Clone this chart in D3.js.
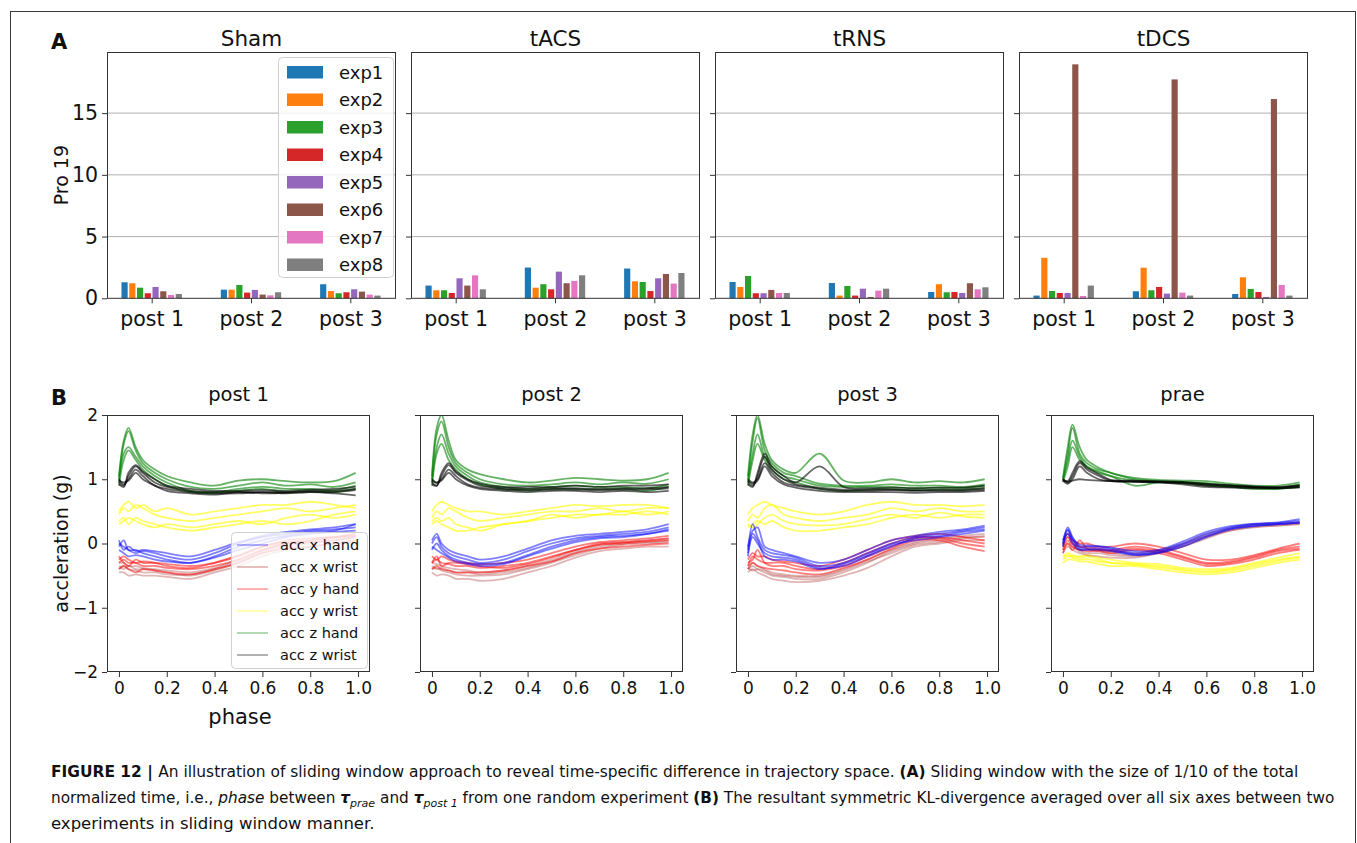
<!DOCTYPE html>
<html><head><meta charset="utf-8">
<script src="https://cdn.jsdelivr.net/npm/d3@7"></script>
<style>
html,body{margin:0;padding:0;background:#fff;}
svg text{font-family:"DejaVu Sans",sans-serif;fill:#111;}
</style></head>
<body>
<svg id="fig" width="1357" height="843"></svg>
<script>
// ---------------- DATA: panel A ----------------
const STIMS = ["Sham", "tACS", "tRNS", "tDCS"];
const CATS = ["post 1", "post 2", "post 3"];
const EXPS = ["exp1", "exp2", "exp3", "exp4", "exp5", "exp6", "exp7", "exp8"];
const EXP_COLORS = ["#1f77b4", "#ff7f0e", "#2ca02c", "#d62728", "#9467bd", "#8c564b", "#e377c2", "#7f7f7f"];
const A_YTICKS = [0, 5, 10, 15];
// values per category (post1, post2, post3), 8 experiments each
const shamVals = [[1.30, 1.22, 0.86, 0.41, 0.92, 0.57, 0.27, 0.35],
                  [0.70, 0.70, 1.08, 0.46, 0.68, 0.30, 0.24, 0.49],
                  [1.14, 0.59, 0.41, 0.49, 0.73, 0.54, 0.30, 0.22]];
const tacsVals = [[1.03, 0.65, 0.65, 0.43, 1.62, 1.03, 1.86, 0.73],
                  [2.49, 0.86, 1.14, 0.73, 2.16, 1.22, 1.41, 1.86],
                  [2.41, 1.38, 1.32, 0.59, 1.62, 1.97, 1.19, 2.05]];
const trnsVals = [[1.32, 0.92, 1.81, 0.41, 0.41, 0.68, 0.43, 0.43],
                  [1.24, 0.22, 1.00, 0.22, 0.78, 0.11, 0.62, 0.78],
                  [0.51, 1.14, 0.49, 0.51, 0.43, 1.22, 0.73, 0.89]];
const tdcsVals = [[0.22, 3.28, 0.59, 0.43, 0.43, 18.95, 0.19, 1.03],
                  [0.57, 2.48, 0.65, 0.92, 0.38, 17.73, 0.46, 0.22],
                  [0.35, 1.70, 0.76, 0.51, 0.11, 16.14, 1.08, 0.22]];

// ---------------- DATA: panel B ----------------
const B_TITLES = ["post 1", "post 2", "post 3", "prae"];
const B_YTICKS = [2, 1, 0, -1, -2];
const B_XTICKS = [0, 0.2, 0.4, 0.6, 0.8, 1.0];
const B_XTICK_LABELS = ["0", "0.2", "0.4", "0.6", "0.8", "1.0"];
const AXES_NAMES = ["acc x hand", "acc x wrist", "acc y hand", "acc y wrist", "acc z hand", "acc z wrist"];
const AXES_COLORS = ["#0000ff", "#a52a2a", "#ff0000", "#ffff00", "#008000", "#000000"];
const PHASE = [0, 0.02, 0.04, 0.07, 0.1, 0.15, 0.2, 0.3, 0.4, 0.5, 0.6, 0.7, 0.8, 0.9, 0.99];

// post 1
const p1_xHand = [[0.0,-0.05,-0.1,-0.15,-0.12,-0.15,-0.2,-0.25,-0.15,0.0,0.1,0.15,0.2,0.22,0.25],
  [-0.05,0.05,-0.1,-0.1,-0.15,-0.2,-0.25,-0.3,-0.2,-0.05,0.05,0.12,0.18,0.2,0.3],
  [0.05,-0.1,-0.05,-0.12,-0.1,-0.12,-0.15,-0.2,-0.1,0.02,0.12,0.18,0.22,0.25,0.3],
  [-0.1,-0.15,-0.2,-0.18,-0.2,-0.25,-0.28,-0.3,-0.22,-0.1,0.0,0.1,0.15,0.18,0.2]];
const p1_xWrist = [[-0.35,-0.4,-0.35,-0.4,-0.4,-0.42,-0.45,-0.5,-0.42,-0.3,-0.15,-0.05,0.0,0.05,0.1],
  [-0.3,-0.3,-0.35,-0.35,-0.38,-0.4,-0.42,-0.45,-0.38,-0.25,-0.1,0.0,0.05,0.1,0.15],
  [-0.45,-0.45,-0.5,-0.48,-0.5,-0.5,-0.52,-0.55,-0.45,-0.35,-0.2,-0.1,-0.05,0.0,0.02],
  [-0.4,-0.35,-0.4,-0.42,-0.45,-0.45,-0.48,-0.48,-0.4,-0.28,-0.12,-0.02,0.02,0.08,0.12]];
const p1_yHand = [[-0.3,-0.25,-0.3,-0.3,-0.35,-0.35,-0.38,-0.4,-0.35,-0.25,-0.1,0.0,0.02,0.05,0.1],
  [-0.2,-0.3,-0.35,-0.25,-0.3,-0.3,-0.32,-0.35,-0.3,-0.2,-0.05,0.02,0.05,0.1,0.15],
  [-0.4,-0.35,-0.4,-0.45,-0.4,-0.42,-0.45,-0.48,-0.4,-0.3,-0.15,-0.08,-0.05,0.0,0.05],
  [-0.25,-0.2,-0.25,-0.3,-0.28,-0.3,-0.35,-0.38,-0.3,-0.18,-0.05,0.05,0.08,0.1,0.12]];
const p1_yWrist = [[0.45,0.55,0.5,0.6,0.55,0.45,0.4,0.35,0.4,0.45,0.5,0.55,0.5,0.55,0.6],
  [0.3,0.35,0.4,0.35,0.3,0.25,0.3,0.25,0.3,0.35,0.3,0.4,0.45,0.4,0.45],
  [0.5,0.6,0.65,0.55,0.6,0.5,0.55,0.45,0.5,0.55,0.6,0.6,0.65,0.6,0.55],
  [0.35,0.4,0.3,0.4,0.35,0.3,0.25,0.2,0.25,0.3,0.35,0.3,0.35,0.45,0.5]];
const p1_zHand = [[1.0,1.55,1.75,1.45,1.25,1.1,1.0,0.88,0.85,0.9,0.95,0.9,0.92,0.88,0.95],
  [0.95,1.4,1.5,1.35,1.2,1.05,0.95,0.82,0.8,0.85,0.88,0.85,0.85,0.83,0.9],
  [1.05,1.6,1.8,1.5,1.3,1.15,1.05,0.95,0.9,0.98,1.0,0.97,0.95,0.97,1.1],
  [0.9,1.3,1.45,1.3,1.15,1.0,0.9,0.8,0.78,0.82,0.85,0.8,0.82,0.8,0.85]];
const p1_zWrist = [[0.95,0.9,1.05,1.2,1.1,0.95,0.88,0.82,0.8,0.8,0.8,0.8,0.82,0.82,0.85],
  [1.0,0.92,1.0,1.15,1.05,0.9,0.85,0.8,0.78,0.78,0.8,0.78,0.8,0.8,0.83],
  [0.92,0.88,1.1,1.22,1.12,1.0,0.9,0.85,0.82,0.82,0.83,0.82,0.84,0.85,0.88],
  [0.98,0.95,0.98,1.1,1.0,0.9,0.82,0.78,0.76,0.8,0.78,0.79,0.8,0.78,0.75]];

// post 2
const p2_xHand = [[0.0,0.1,-0.05,-0.15,-0.2,-0.25,-0.3,-0.25,-0.12,0.0,0.08,0.12,0.15,0.18,0.25],
  [-0.1,0.0,-0.1,-0.2,-0.25,-0.3,-0.32,-0.3,-0.18,-0.05,0.05,0.1,0.12,0.15,0.2],
  [0.05,0.15,0.0,-0.1,-0.15,-0.2,-0.25,-0.2,-0.08,0.05,0.12,0.15,0.18,0.22,0.3],
  [-0.05,-0.1,-0.15,-0.22,-0.28,-0.32,-0.35,-0.32,-0.2,-0.08,0.02,0.08,0.1,0.15,0.22]];
const p2_xWrist = [[-0.35,-0.4,-0.38,-0.42,-0.45,-0.45,-0.48,-0.45,-0.38,-0.28,-0.15,-0.05,0.0,0.02,0.05],
  [-0.3,-0.32,-0.35,-0.38,-0.4,-0.42,-0.45,-0.42,-0.35,-0.25,-0.12,-0.02,0.02,0.05,0.08],
  [-0.45,-0.5,-0.48,-0.5,-0.55,-0.55,-0.58,-0.55,-0.45,-0.35,-0.22,-0.12,-0.08,-0.05,-0.05],
  [-0.4,-0.38,-0.42,-0.45,-0.48,-0.5,-0.5,-0.48,-0.4,-0.3,-0.18,-0.08,-0.02,0.0,0.02]];
const p2_yHand = [[-0.3,-0.25,-0.3,-0.32,-0.35,-0.35,-0.38,-0.35,-0.3,-0.2,-0.1,0.0,0.02,0.05,0.08],
  [-0.2,-0.25,-0.2,-0.25,-0.28,-0.3,-0.32,-0.3,-0.25,-0.15,-0.05,0.02,0.05,0.08,0.12],
  [-0.4,-0.35,-0.4,-0.42,-0.45,-0.45,-0.45,-0.42,-0.35,-0.28,-0.15,-0.08,-0.05,-0.02,0.0],
  [-0.3,-0.2,-0.35,-0.3,-0.3,-0.32,-0.35,-0.38,-0.32,-0.22,-0.1,-0.02,0.0,0.03,0.05]];
const p2_yWrist = [[0.4,0.5,0.45,0.55,0.5,0.4,0.35,0.4,0.45,0.5,0.5,0.55,0.5,0.55,0.55],
  [0.3,0.35,0.3,0.25,0.2,0.2,0.25,0.3,0.35,0.4,0.45,0.45,0.5,0.45,0.5],
  [0.5,0.6,0.65,0.6,0.55,0.5,0.5,0.45,0.5,0.55,0.6,0.58,0.6,0.6,0.55],
  [0.35,0.4,0.35,0.4,0.3,0.25,0.2,0.3,0.35,0.45,0.4,0.45,0.45,0.5,0.45]];
const p2_zHand = [[1.0,1.7,1.9,1.5,1.25,1.1,1.0,0.92,0.9,0.92,0.95,0.92,0.95,0.93,1.0],
  [0.95,1.5,1.7,1.4,1.2,1.05,0.95,0.88,0.85,0.88,0.9,0.88,0.88,0.86,0.92],
  [1.05,1.8,2.0,1.6,1.3,1.15,1.08,1.0,0.95,0.98,1.02,1.0,0.98,1.0,1.1],
  [0.9,1.4,1.55,1.3,1.15,1.0,0.92,0.85,0.82,0.85,0.85,0.84,0.85,0.82,0.88]];
const p2_zWrist = [[0.95,0.9,1.05,1.22,1.1,0.98,0.9,0.86,0.85,0.86,0.86,0.85,0.86,0.86,0.88],
  [1.0,0.95,1.0,1.15,1.05,0.92,0.87,0.84,0.83,0.84,0.84,0.83,0.84,0.84,0.86],
  [0.92,0.9,1.1,1.25,1.12,1.0,0.93,0.88,0.88,0.88,0.9,0.88,0.9,0.9,0.92],
  [0.98,0.94,0.98,1.1,1.0,0.9,0.85,0.82,0.8,0.82,0.82,0.8,0.82,0.8,0.82]];

// post 3
const p3_xHand = [[-0.1,0.3,0.1,-0.1,-0.15,-0.18,-0.22,-0.35,-0.3,-0.15,0.0,0.1,0.15,0.2,0.25],
  [-0.05,0.2,0.25,-0.05,-0.1,-0.15,-0.2,-0.3,-0.25,-0.1,0.05,0.12,0.18,0.22,0.28],
  [-0.15,0.1,0.0,-0.15,-0.2,-0.22,-0.25,-0.38,-0.35,-0.2,-0.05,0.08,0.12,0.18,0.22],
  [-0.2,0.15,0.05,-0.2,-0.25,-0.25,-0.28,-0.4,-0.32,-0.18,-0.02,0.05,0.1,0.15,0.2]];
const p3_xWrist = [[-0.4,-0.35,-0.4,-0.45,-0.5,-0.52,-0.55,-0.55,-0.45,-0.3,-0.12,0.0,0.05,0.1,0.1],
  [-0.35,-0.3,-0.35,-0.4,-0.45,-0.48,-0.5,-0.5,-0.4,-0.25,-0.1,0.02,0.08,0.12,0.15],
  [-0.45,-0.4,-0.45,-0.5,-0.55,-0.58,-0.6,-0.58,-0.5,-0.38,-0.2,-0.05,0.0,0.05,0.05],
  [-0.38,-0.42,-0.4,-0.42,-0.48,-0.5,-0.52,-0.52,-0.42,-0.28,-0.15,-0.02,0.02,0.08,0.12]];
const p3_yHand = [[-0.35,-0.2,-0.25,-0.3,-0.3,-0.3,-0.35,-0.4,-0.3,-0.15,0.0,0.1,0.1,0.05,0.0],
  [-0.25,-0.15,-0.2,-0.2,-0.25,-0.28,-0.3,-0.35,-0.25,-0.1,0.05,0.12,0.15,0.1,0.05],
  [-0.4,-0.3,-0.35,-0.38,-0.4,-0.42,-0.45,-0.48,-0.38,-0.25,-0.08,0.05,0.05,-0.05,-0.12],
  [-0.3,-0.25,-0.1,-0.3,-0.35,-0.35,-0.4,-0.42,-0.35,-0.2,-0.05,0.08,0.08,0.0,-0.05]];
const p3_yWrist = [[0.35,0.45,0.4,0.55,0.6,0.45,0.4,0.35,0.4,0.45,0.55,0.5,0.55,0.5,0.5],
  [0.25,0.3,0.35,0.3,0.35,0.25,0.2,0.2,0.25,0.3,0.4,0.45,0.4,0.45,0.45],
  [0.45,0.55,0.6,0.65,0.6,0.55,0.5,0.45,0.5,0.6,0.65,0.6,0.6,0.58,0.6],
  [0.3,0.25,0.3,0.4,0.45,0.35,0.3,0.28,0.3,0.38,0.45,0.4,0.48,0.42,0.4]];
const p3_zHand = [[1.0,1.6,1.95,1.45,1.25,1.1,1.05,0.93,0.9,0.9,0.92,0.9,0.9,0.88,0.92],
  [0.95,1.4,1.7,1.35,1.2,1.05,1.0,0.9,0.88,0.88,0.88,0.86,0.87,0.86,0.9],
  [1.05,1.7,2.0,1.55,1.3,1.15,1.1,1.4,0.98,0.95,1.0,0.95,0.97,0.95,1.0],
  [0.9,1.3,1.55,1.3,1.15,1.0,0.95,0.85,0.82,0.84,0.85,0.83,0.84,0.83,0.87]];
const p3_zWrist = [[0.95,0.9,1.05,1.35,1.15,1.0,0.92,0.87,0.84,0.84,0.84,0.83,0.84,0.84,0.86],
  [1.0,0.95,1.0,1.25,1.1,0.95,0.9,0.85,0.82,0.82,0.83,0.82,0.82,0.82,0.84],
  [0.92,0.88,1.1,1.4,1.2,1.05,0.95,1.2,0.88,0.86,0.87,0.86,0.87,0.87,0.9],
  [0.98,0.93,0.98,1.2,1.05,0.92,0.87,0.82,0.8,0.8,0.8,0.79,0.8,0.8,0.82]];

// prae
const pr_xHand = [[0.0,0.25,0.1,-0.05,-0.05,-0.05,-0.08,-0.15,-0.12,0.0,0.15,0.25,0.3,0.32,0.35],
  [-0.05,0.2,0.05,-0.08,-0.08,-0.08,-0.1,-0.17,-0.14,-0.02,0.12,0.23,0.28,0.3,0.33],
  [0.05,0.22,0.08,-0.02,-0.03,-0.04,-0.06,-0.12,-0.1,0.03,0.18,0.27,0.31,0.33,0.38],
  [-0.02,0.15,0.0,-0.1,-0.1,-0.1,-0.12,-0.18,-0.15,-0.05,0.1,0.22,0.27,0.3,0.32]];
const pr_xWrist = [[-0.05,0.1,0.0,-0.1,-0.1,-0.12,-0.15,-0.18,-0.12,-0.02,0.12,0.22,0.28,0.3,0.32],
  [-0.15,-0.05,-0.1,-0.15,-0.18,-0.2,-0.22,-0.22,-0.15,-0.05,0.08,0.2,0.26,0.28,0.3],
  [0.0,0.15,0.05,-0.05,-0.08,-0.1,-0.12,-0.15,-0.1,0.0,0.15,0.24,0.3,0.31,0.33],
  [-0.1,0.0,-0.05,-0.12,-0.15,-0.15,-0.18,-0.2,-0.15,-0.05,0.1,0.2,0.25,0.28,0.3]];
const pr_yHand = [[-0.05,0.1,0.0,-0.05,-0.05,-0.08,-0.1,-0.05,-0.1,-0.2,-0.3,-0.28,-0.2,-0.1,-0.05],
  [0.05,0.15,0.05,0.0,0.0,-0.05,-0.05,0.0,-0.05,-0.15,-0.25,-0.25,-0.18,-0.08,0.0],
  [-0.1,0.05,-0.05,-0.1,-0.12,-0.12,-0.15,-0.1,-0.15,-0.25,-0.35,-0.32,-0.25,-0.15,-0.1],
  [-0.15,0.0,-0.1,0.05,-0.08,-0.1,-0.12,-0.08,-0.12,-0.22,-0.32,-0.3,-0.22,-0.12,-0.08]];
const pr_yWrist = [[-0.25,-0.2,-0.2,-0.22,-0.2,-0.25,-0.3,-0.32,-0.35,-0.4,-0.43,-0.4,-0.32,-0.25,-0.2],
  [-0.2,-0.15,-0.18,-0.2,-0.18,-0.22,-0.25,-0.3,-0.32,-0.38,-0.4,-0.38,-0.3,-0.22,-0.15],
  [-0.3,-0.25,-0.25,-0.28,-0.28,-0.32,-0.35,-0.35,-0.4,-0.45,-0.48,-0.45,-0.38,-0.3,-0.25],
  [-0.22,-0.18,-0.22,-0.25,-0.24,-0.28,-0.3,-0.33,-0.37,-0.42,-0.45,-0.42,-0.35,-0.27,-0.22]];
const pr_zHand = [[1.0,1.4,1.8,1.4,1.25,1.15,1.1,1.0,0.97,0.96,0.94,0.9,0.88,0.87,0.92],
  [0.98,1.3,1.6,1.35,1.2,1.12,1.05,0.98,0.96,0.95,0.92,0.9,0.87,0.86,0.9],
  [1.02,1.5,1.85,1.5,1.3,1.18,1.1,1.02,0.99,0.98,0.97,0.93,0.9,0.9,0.95],
  [0.96,1.2,1.5,1.3,1.2,1.1,1.05,0.9,0.95,0.94,0.9,0.88,0.85,0.85,0.88]];
const pr_zWrist = [[1.0,0.95,1.05,1.25,1.15,1.05,0.98,0.97,0.96,0.95,0.92,0.9,0.88,0.87,0.9],
  [0.98,0.93,1.0,1.2,1.1,1.0,0.97,0.96,0.95,0.94,0.9,0.88,0.87,0.86,0.88],
  [1.0,0.97,1.1,1.28,1.18,1.08,0.99,0.98,0.97,0.96,0.93,0.91,0.89,0.88,0.91],
  [0.99,0.96,0.98,1.0,0.99,0.98,0.97,0.96,0.95,0.92,0.88,0.87,0.86,0.86,0.87]];

// ---------------- DRAWING ----------------
const svg = d3.select("#fig");
const FONT = "DejaVu Sans";

// outer frame
svg.append("rect").attr("x", 10.5).attr("y", 11.5).attr("width", 1345).attr("height", 900)
  .attr("fill", "none").attr("stroke", "#3a3a3a").attr("stroke-width", 1);

// ===== Panel A =====
const A_LEFTS = [107, 411, 715, 1019];
const A_W = 289, A_TOP = 52, A_BOT = 298.3;
const aData = [shamVals, tacsVals, trnsVals, tdcsVals];
const yA = d3.scaleLinear().domain([0, 19.95]).range([A_BOT, A_TOP]);
const SLOT = 0.078, BARW = 0.062;

STIMS.forEach((name, p) => {
  const left = A_LEFTS[p];
  const xA = d3.scaleLinear().domain([-0.45, 2.46]).range([left, left + A_W]);
  const g = svg.append("g");
  g.append("g").selectAll("line").data(A_YTICKS.filter(d => d > 0)).join("line")
    .attr("x1", left).attr("x2", left + A_W)
    .attr("y1", d => yA(d)).attr("y2", d => yA(d))
    .attr("stroke", "#b0b0b0").attr("stroke-width", 1);
  aData[p].forEach((vals, ci) => {
    g.append("g").selectAll("rect").data(vals).join("rect")
      .attr("x", (v, j) => xA(ci + (j - 3.5) * SLOT - BARW / 2))
      .attr("width", xA(BARW) - xA(0))
      .attr("y", v => yA(v))
      .attr("height", v => yA(0) - yA(v))
      .attr("fill", (v, j) => EXP_COLORS[j]);
  });
  const yAxis = d3.axisLeft(yA).tickValues(A_YTICKS).tickSize(5).tickPadding(4)
    .tickFormat(p === 0 ? d3.format("d") : () => "");
  const ya = g.append("g").attr("transform", `translate(${left},0)`).call(yAxis);
  const xAxis = d3.axisBottom(xA).tickValues([0, 1, 2]).tickSize(5).tickPadding(4)
    .tickFormat((d, i) => CATS[i]);
  const xa = g.append("g").attr("transform", `translate(0,${A_BOT})`).call(xAxis);
  [ya, xa].forEach(a => {
    a.select(".domain").remove();
    a.selectAll("line").attr("stroke", "#333");
    a.selectAll("text").attr("font-family", FONT).attr("font-size", 20.5).attr("fill", "#111");
  });
  xa.selectAll("text").attr("dy", "0.9em");
  g.append("rect").attr("x", left + 0.5).attr("y", A_TOP + 0.5).attr("width", A_W - 1).attr("height", A_BOT - A_TOP - 0.5)
    .attr("fill", "none").attr("stroke", "#333").attr("stroke-width", 1);
  g.append("text").attr("x", left + A_W / 2).attr("y", 46).attr("text-anchor", "middle")
    .attr("font-family", FONT).attr("font-size", 21.5).text(name);
});

svg.append("text").attr("x", 51).attr("y", 49).attr("font-family", FONT).attr("font-weight", "bold")
  .attr("font-size", 21).text("A");
svg.append("text").attr("transform", `translate(68,${(A_TOP + A_BOT) / 2}) rotate(-90)`)
  .attr("text-anchor", "middle").attr("font-family", FONT).attr("font-size", 19).text("Pro 19");

// legend A
const legA = svg.append("g");
legA.append("rect").attr("x", 278.5).attr("y", 57.5).attr("width", 115).attr("height", 220).attr("rx", 4)
  .attr("fill", "#fff").attr("fill-opacity", 0.8).attr("stroke", "#d0d0d0");
EXPS.forEach((e, i) => {
  const cy = 72 + i * 27.5;
  legA.append("rect").attr("x", 287).attr("y", cy - 6).attr("width", 36).attr("height", 12.5)
    .attr("fill", EXP_COLORS[i]);
  legA.append("text").attr("x", 339).attr("y", cy + 6.5).attr("font-family", FONT).attr("font-size", 18).text(e);
});

// ===== Panel B =====
const B_LEFTS = [107, 420, 736, 1051];
const B_W = 263, B_TOP = 415, B_BOT = 672;
const yB = d3.scaleLinear().domain([-2, 2]).range([B_BOT, B_TOP]);
const bData = [
  [p1_xHand, p1_xWrist, p1_yHand, p1_yWrist, p1_zHand, p1_zWrist],
  [p2_xHand, p2_xWrist, p2_yHand, p2_yWrist, p2_zHand, p2_zWrist],
  [p3_xHand, p3_xWrist, p3_yHand, p3_yWrist, p3_zHand, p3_zWrist],
  [pr_xHand, pr_xWrist, pr_yHand, pr_yWrist, pr_zHand, pr_zWrist]];
const AX_OPACITY = [0.5, 0.35, 0.5, 0.6, 0.6, 0.6];

B_TITLES.forEach((title, p) => {
  const left = B_LEFTS[p];
  const xB = d3.scaleLinear().domain([-0.05, 1.05]).range([left, left + B_W]);
  const line = d3.line().x((d, i) => xB(PHASE[i])).y(d => yB(d)).curve(d3.curveCatmullRom.alpha(0.5));
  const g = svg.append("g");
  const clipId = "clip" + p;
  g.append("clipPath").attr("id", clipId).append("rect")
    .attr("x", left).attr("y", B_TOP).attr("width", B_W).attr("height", B_BOT - B_TOP);
  const lines = g.append("g").attr("clip-path", `url(#${clipId})`);
  [3, 1, 2, 0, 4, 5].forEach(k => {
    lines.append("g").selectAll("path").data(bData[p][k]).join("path")
      .attr("d", line).attr("fill", "none")
      .attr("stroke", AXES_COLORS[k]).attr("stroke-opacity", AX_OPACITY[k]).attr("stroke-width", 1.8);
  });
  const yAxis = d3.axisLeft(yB).tickValues(B_YTICKS).tickSize(5).tickPadding(4)
    .tickFormat(p === 0 ? d3.format("d") : () => "");
  const ya = g.append("g").attr("transform", `translate(${left},0)`).call(yAxis);
  const xAxis = d3.axisBottom(xB).tickValues(B_XTICKS).tickSize(5).tickPadding(3)
    .tickFormat((d, i) => B_XTICK_LABELS[i]);
  const xa = g.append("g").attr("transform", `translate(0,${B_BOT})`).call(xAxis);
  [ya, xa].forEach(a => {
    a.select(".domain").remove();
    a.selectAll("line").attr("stroke", "#333");
    a.selectAll("text").attr("font-family", FONT).attr("font-size", 17).attr("fill", "#111");
  });
  xa.selectAll("text").attr("dy", "0.85em");
  g.append("rect").attr("x", left + 0.5).attr("y", B_TOP + 0.5).attr("width", B_W - 1).attr("height", B_BOT - B_TOP - 1)
    .attr("fill", "none").attr("stroke", "#333").attr("stroke-width", 1);
  g.append("text").attr("x", left + B_W / 2).attr("y", 401).attr("text-anchor", "middle")
    .attr("font-family", FONT).attr("font-size", 19.5).text(title);
});

svg.append("text").attr("x", 51).attr("y", 405).attr("font-family", FONT).attr("font-weight", "bold")
  .attr("font-size", 21).text("B");
svg.append("text").attr("transform", `translate(68,${(B_TOP + B_BOT) / 2}) rotate(-90)`)
  .attr("text-anchor", "middle").attr("font-family", FONT).attr("font-size", 19).text("accleration (g)");
svg.append("text").attr("x", 240).attr("y", 724).attr("text-anchor", "middle")
  .attr("font-family", FONT).attr("font-size", 21).text("phase");

// legend B
const legB = svg.append("g");
legB.append("rect").attr("x", 231.5).attr("y", 532.5).attr("width", 136).attr("height", 136).attr("rx", 4)
  .attr("fill", "#fff").attr("fill-opacity", 0.8).attr("stroke", "#d0d0d0");
AXES_NAMES.forEach((n, i) => {
  const cy = 545 + i * 22;
  legB.append("line").attr("x1", 237).attr("x2", 268).attr("y1", cy).attr("y2", cy)
    .attr("stroke", AXES_COLORS[i]).attr("stroke-opacity", 0.3).attr("stroke-width", 2);
  legB.append("text").attr("x", 280).attr("y", cy + 5).attr("font-family", FONT).attr("font-size", 14.5).text(n);
});

// ===== Caption =====
const cap = svg.append("g");
const CAP_FONT = "'Liberation Sans Narrow','Arial Narrow','Liberation Sans',sans-serif";
function capLine(y, parts, target) {
  const base = 16.5;
  const t = cap.append("text").attr("x", 51).attr("y", y).attr("font-family", CAP_FONT)
    .attr("font-size", base).attr("fill", "#231f20");
  const spans = [];
  parts.forEach(pt => {
    const s = t.append("tspan").text(pt.t);
    if (pt.b) s.attr("font-weight", "bold");
    if (pt.i) s.attr("font-style", "italic");
    if (pt.sub) s.attr("font-size", base * 0.72).attr("dy", 4);
    if (pt.after) s.attr("dy", -4);
    spans.push(s);
  });
  if (target) {
    const w = t.node().getComputedTextLength();
    if (w > target) {
      const f = base * target / w;
      t.attr("font-size", f);
      parts.forEach((pt, i) => { if (pt.sub) spans[i].attr("font-size", f * 0.72); });
    }
  }
  return t;
}
capLine(777, [{t: "FIGURE 12 | ", b: true},
  {t: "An illustration of sliding window approach to reveal time-specific difference in trajectory space. "},
  {t: "(A)", b: true}, {t: " Sliding window with the size of 1/10 of the total"}], 1248);
capLine(803, [{t: "normalized time, i.e., "}, {t: "phase", i: true}, {t: " between "},
  {t: "τ", b: true, i: true}, {t: "prae", i: true, sub: true}, {t: " and ", after: true},
  {t: "τ", b: true, i: true}, {t: "post 1", i: true, sub: true},
  {t: " from one random experiment ", after: true}, {t: "(B)", b: true},
  {t: " The resultant symmetric KL-divergence averaged over all six axes between two"}], 1285);
capLine(829, [{t: "experiments in sliding window manner."}]);
</script>
</body></html>
